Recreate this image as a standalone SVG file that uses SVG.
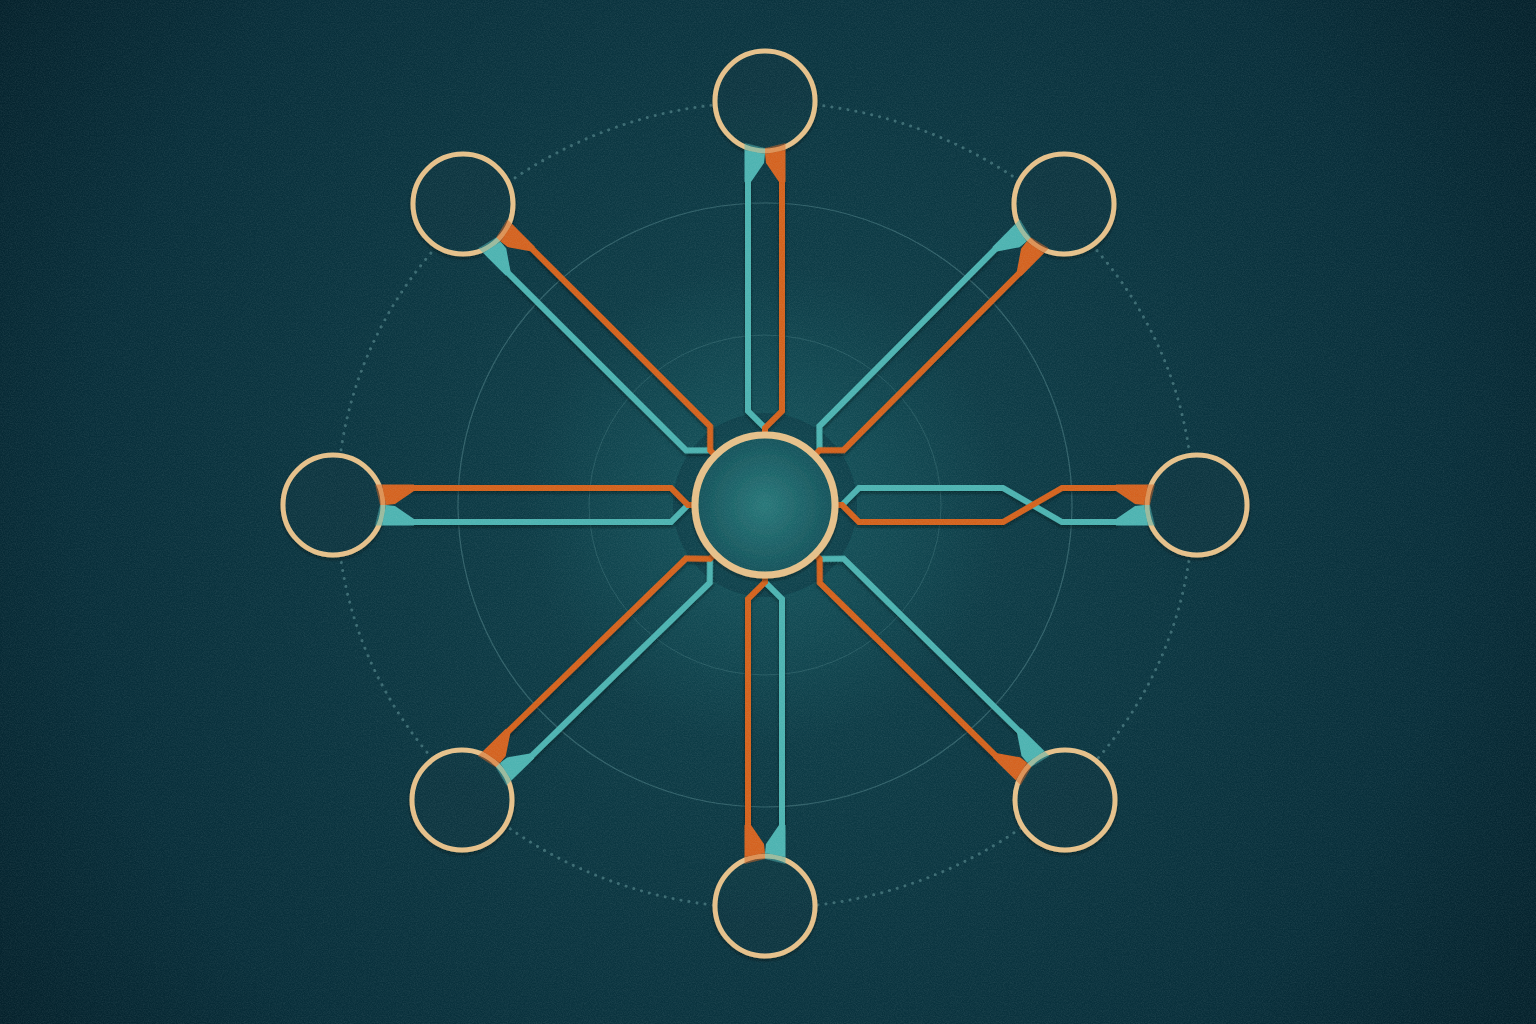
<svg xmlns="http://www.w3.org/2000/svg" width="1536" height="1024" viewBox="0 0 1536 1024">
<defs>
<radialGradient id="bg" cx="765" cy="505" r="980" gradientUnits="userSpaceOnUse">
<stop offset="0" stop-color="#10444e"/>
<stop offset="0.35" stop-color="#0c3843"/>
<stop offset="0.7" stop-color="#082e3a"/>
<stop offset="1" stop-color="#041e28"/>
</radialGradient>
<radialGradient id="glow" cx="765" cy="505" r="240" gradientUnits="userSpaceOnUse">
<stop offset="0" stop-color="#2c8f90" stop-opacity="0.6"/>
<stop offset="0.4" stop-color="#1e6d72" stop-opacity="0.28"/>
<stop offset="1" stop-color="#1e6d72" stop-opacity="0"/>
</radialGradient>
<radialGradient id="hubfill" cx="765" cy="505" r="70" gradientUnits="userSpaceOnUse">
<stop offset="0" stop-color="#287779"/>
<stop offset="1" stop-color="#14525a"/>
</radialGradient>
<filter id="sh" x="-20%" y="-20%" width="140%" height="140%">
<feDropShadow dx="0" dy="2" stdDeviation="1.8" flood-color="#021318" flood-opacity="0.55"/>
</filter>
<filter id="noise" x="0" y="0" width="100%" height="100%">
<feTurbulence type="fractalNoise" baseFrequency="0.85" numOctaves="2" seed="7"/>
<feColorMatrix type="matrix" values="0 0 0 0 0.7  0 0 0 0 0.85  0 0 0 0 0.85  0.16 0 0 0 -0.05"/>
</filter>
<g id="fp">
<polygon points="81,14 81,20.5 49,20.5 53,0 62,1"/>
<polygon class="ov" points="49.5,20.5 42,20.5 47,0 53,0"/>
</g>
<style>
.guide{fill:none;stroke:#6a9ea2}
.node{fill:url(#bg);stroke:#e6c089;stroke-width:5}
.tl{fill:none;stroke:#4db3b1;stroke-width:6;stroke-linejoin:miter}
.ol{fill:none;stroke:#d4621f;stroke-width:6;stroke-linejoin:miter}
.tf{fill:#4db3b1}
.of{fill:#d4621f}
.ov{opacity:0.5}
</style>
</defs>
<rect width="1536" height="1024" fill="url(#bg)"/>
<g id="guides">
<ellipse class="guide" cx="765" cy="505" rx="428" ry="403" stroke-width="3" stroke-dasharray="0.1 8" stroke-linecap="round" opacity="0.5"/>
<ellipse class="guide" cx="765" cy="505" rx="307" ry="302" stroke-width="1.2" opacity="0.4"/>
<ellipse class="guide" cx="765" cy="505" rx="176" ry="170" stroke-width="1" opacity="0.28"/>
</g>
<circle cx="765" cy="505" r="240" fill="url(#glow)"/>
<circle cx="765" cy="505" r="92" fill="#0a3340" opacity="0.5"/>
<g id="connectors" filter="url(#sh)">
<g id="c-top" transform="translate(765,101) rotate(90)">
<path class="tl" d="M78,17 H310 L327,0 L336,0"/>
<path class="ol" d="M78,-17 H310 L327,0 L336,0"/>
</g>
<g id="c-topright" transform="translate(1064,204) rotate(134.8)">
<path class="tl" d="M78,17 H330 L347,0 L356,0"/>
<path class="ol" d="M78,-17 H330 L347,0 L356,0"/>
</g>
<g id="c-right" transform="translate(1197,505) rotate(180)">
<path class="tl" d="M78,-17 H135 L194,17 H338 L355,0 L364,0"/>
<path class="ol" d="M78,17 H135 L194,-17 H338 L355,0 L364,0"/>
</g>
<g id="c-bottomright" transform="translate(1065,800) rotate(-135.5)">
<path class="tl" d="M78,17 H327 L344,0 L353,0"/>
<path class="ol" d="M78,-17 H327 L344,0 L353,0"/>
</g>
<g id="c-bottom" transform="translate(765,906) rotate(-90)">
<path class="tl" d="M78,17 H307 L324,0 L333,0"/>
<path class="ol" d="M78,-17 H307 L324,0 L333,0"/>
</g>
<g id="c-bottomleft" transform="translate(462,800) rotate(-44.2)">
<path class="tl" d="M78,17 H329 L346,0 L355,0"/>
<path class="ol" d="M78,-17 H329 L346,0 L355,0"/>
</g>
<g id="c-left" transform="translate(333,505)">
<path class="tl" d="M78,17 H338 L355,0 L364,0"/>
<path class="ol" d="M78,-17 H338 L355,0 L364,0"/>
</g>
<g id="c-topleft" transform="translate(463,204) rotate(44.9)">
<path class="tl" d="M78,17 H332 L349,0 L358,0"/>
<path class="ol" d="M78,-17 H332 L349,0 L358,0"/>
</g>
</g>
<g id="hub" filter="url(#sh)">
<circle cx="765" cy="505" r="70" fill="url(#hubfill)" stroke="#e6c089" stroke-width="7"/>
</g>
<g id="nodes" filter="url(#sh)">
<g id="n-top"><circle class="node" cx="765" cy="101" r="50"/></g>
<g id="n-topright"><circle class="node" cx="1064" cy="204" r="50"/></g>
<g id="n-right"><circle class="node" cx="1197" cy="505" r="50"/></g>
<g id="n-bottomright"><circle class="node" cx="1065" cy="800" r="50"/></g>
<g id="n-bottom"><circle class="node" cx="765" cy="906" r="50"/></g>
<g id="n-bottomleft"><circle class="node" cx="462" cy="800" r="50"/></g>
<g id="n-left"><circle class="node" cx="333" cy="505" r="50"/></g>
<g id="n-topleft"><circle class="node" cx="463" cy="204" r="50"/></g>
</g>
<g id="funnels">
<g transform="translate(765,101) rotate(90)"><use href="#fp" class="tf"/><use href="#fp" class="of" transform="scale(1,-1)"/></g>
<g transform="translate(1064,204) rotate(134.8)"><use href="#fp" class="tf"/><use href="#fp" class="of" transform="scale(1,-1)"/></g>
<g transform="translate(1197,505) rotate(180)"><use href="#fp" class="of"/><use href="#fp" class="tf" transform="scale(1,-1)"/></g>
<g transform="translate(1065,800) rotate(-135.5)"><use href="#fp" class="tf"/><use href="#fp" class="of" transform="scale(1,-1)"/></g>
<g transform="translate(765,906) rotate(-90)"><use href="#fp" class="tf"/><use href="#fp" class="of" transform="scale(1,-1)"/></g>
<g transform="translate(462,800) rotate(-44.2)"><use href="#fp" class="tf"/><use href="#fp" class="of" transform="scale(1,-1)"/></g>
<g transform="translate(333,505)"><use href="#fp" class="tf"/><use href="#fp" class="of" transform="scale(1,-1)"/></g>
<g transform="translate(463,204) rotate(44.9)"><use href="#fp" class="tf"/><use href="#fp" class="of" transform="scale(1,-1)"/></g>
</g>
<rect width="1536" height="1024" filter="url(#noise)" pointer-events="none"/>
</svg>
